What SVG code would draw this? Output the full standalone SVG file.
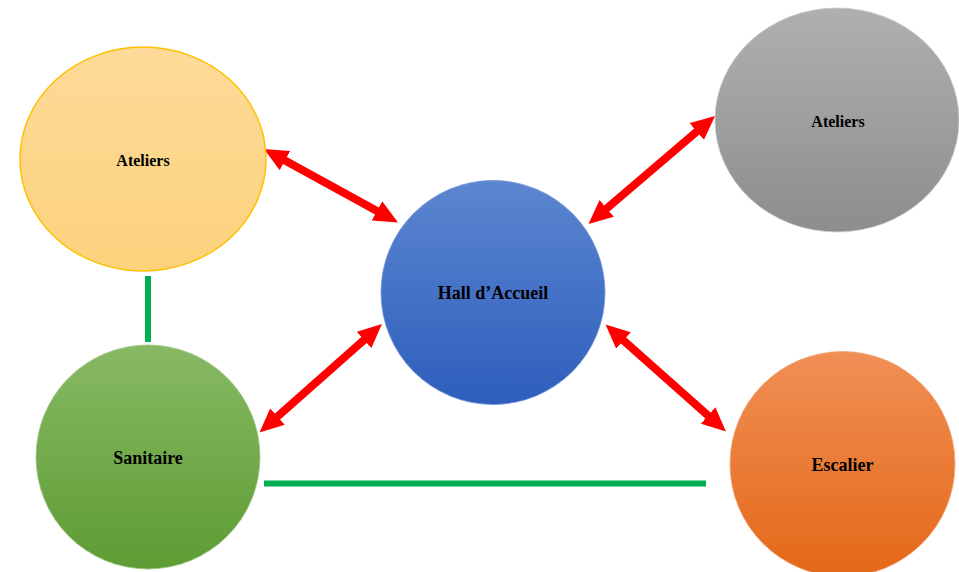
<svg xmlns="http://www.w3.org/2000/svg" width="959" height="572" viewBox="0 0 959 572">
  <style>
    .lbl { font-family: "Liberation Serif", "Times New Roman", serif; font-weight: bold; fill: #000; text-anchor: middle; }
    .s16 { font-size: 16px; }
    .s18 { font-size: 18px; }
    .red { stroke: #FF0000; stroke-width: 8; fill: none; marker-start: url(#ah); marker-end: url(#ah); }
    .grn { stroke: #00B050; stroke-width: 6; fill: none; }
  </style>
  <defs>
    <linearGradient id="gYel" x1="0" y1="0" x2="0" y2="1">
      <stop offset="0" stop-color="#FDDA99"/>
      <stop offset="1" stop-color="#FCD27C"/>
    </linearGradient>
    <linearGradient id="gGry" x1="0" y1="0" x2="0" y2="1">
      <stop offset="0" stop-color="#B0B0B0"/>
      <stop offset="1" stop-color="#8D8D8D"/>
    </linearGradient>
    <linearGradient id="gBlu" x1="0" y1="0" x2="0" y2="1">
      <stop offset="0" stop-color="#5C86D0"/>
      <stop offset="1" stop-color="#2D5EBC"/>
    </linearGradient>
    <linearGradient id="gGrn" x1="0" y1="0" x2="0" y2="1">
      <stop offset="0" stop-color="#88B964"/>
      <stop offset="1" stop-color="#5D9C33"/>
    </linearGradient>
    <linearGradient id="gOrg" x1="0" y1="0" x2="0" y2="1">
      <stop offset="0" stop-color="#F08F56"/>
      <stop offset="1" stop-color="#E46817"/>
    </linearGradient>
    <marker id="ah" markerUnits="userSpaceOnUse" markerWidth="24" markerHeight="22" viewBox="0 0 24 22" refX="12" refY="11" orient="auto-start-reverse">
      <path d="M0,0 L24,11 L0,22 z" fill="#FF0000"/>
    </marker>
  </defs>

  <g id="connectors">
    <line class="grn" x1="148" y1="276" x2="148" y2="342"/>
    <line class="grn" x1="264" y1="483.5" x2="706" y2="483.5"/>
    <line class="red" x1="274.5" y1="154.8" x2="387.5" y2="216.7"/>
    <line class="red" x1="705.9" y1="123.8" x2="597.6" y2="216.2"/>
    <line class="red" x1="373" y1="332" x2="268.5" y2="424.5"/>
    <line class="red" x1="614.5" y1="332.5" x2="717" y2="423.5"/>
  </g>

  <g id="ateliers-left">
    <ellipse cx="143" cy="159" rx="123" ry="112" fill="url(#gYel)" stroke="#FFC000" stroke-width="1.5"/>
    <text class="lbl s16" x="143" y="166">Ateliers</text>
  </g>
  <g id="ateliers-right">
    <ellipse cx="837" cy="120" rx="122" ry="112" fill="url(#gGry)" stroke="#C8C8C8" stroke-width="0.8"/>
    <text class="lbl s16" x="838" y="127">Ateliers</text>
  </g>
  <g id="hall">
    <circle cx="493" cy="292.5" r="112" fill="url(#gBlu)" stroke="#6F93D6" stroke-width="0.8"/>
    <text class="lbl s18" x="493" y="299">Hall d’Accueil</text>
  </g>
  <g id="sanitaire">
    <circle cx="148" cy="457" r="112" fill="url(#gGrn)" stroke="#9CC784" stroke-width="0.8"/>
    <text class="lbl s18" x="148" y="464">Sanitaire</text>
  </g>
  <g id="escalier">
    <circle cx="842.5" cy="464" r="112.5" fill="url(#gOrg)" stroke="#F3A678" stroke-width="0.8"/>
    <text class="lbl s18" x="842.5" y="471">Escalier</text>
  </g>
</svg>
